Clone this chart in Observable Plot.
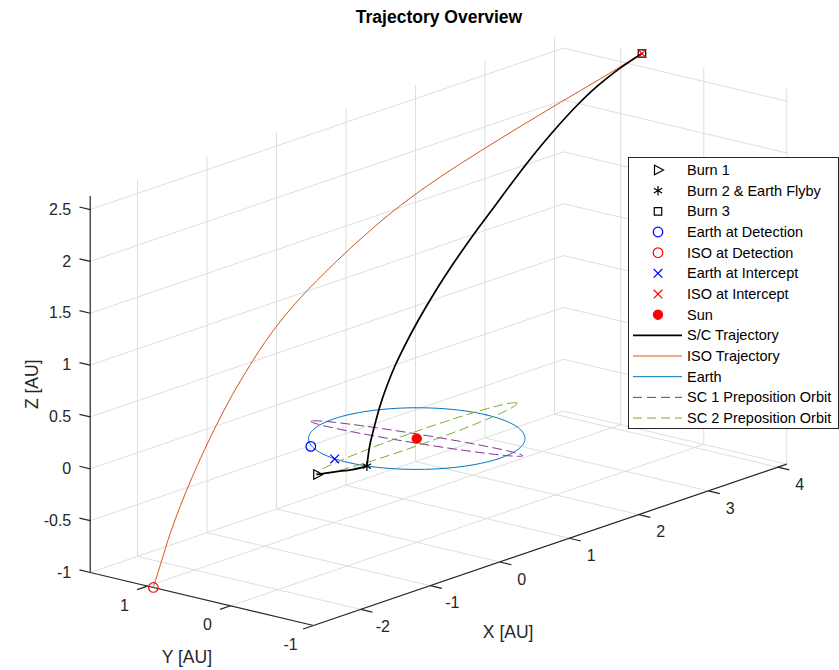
<!DOCTYPE html>
<html>
<head>
<meta charset="utf-8">
<script src="https://cdn.jsdelivr.net/npm/d3@7"></script>
<script src="https://cdn.jsdelivr.net/npm/@observablehq/plot@0.6"></script>
<style>
  body { margin: 0; background: #fff; font-family: "Liberation Sans", Arial, Helvetica, sans-serif; }
  #wrap { position: relative; width: 839px; height: 670px; overflow: hidden; background: #fff; }
  #title { position: absolute; left: 289px; width: 300px; top: 7px; text-align: center; font-weight: bold;
           font-size: 17.5px; color: #000; white-space: nowrap; }
  #legend { position: absolute; left: 628px; top: 157px; }
</style>
</head>
<body>
<div id="wrap">
  <div id="chart"></div>
  <div id="title"></div>
  <div id="legend"></div>
</div>
<script>
// ---------------- data ----------------
const titleText = "Trajectory Overview";
const axisLabels = ["X [AU]", "Y [AU]", "Z [AU]"];
const xLim = [-2.68, 4.13], yLim = [-1, 1.69], zLim = [-1, 2.63];
const xTicks = [-2, -1, 0, 1, 2, 3, 4];
const xTickLabels = ["-2", "-1", "0", "1", "2", "3", "4"];
const yTicks = [-1, 0, 1];
const yTickLabels = ["-1", "0", "1"];
const zTicks = [-1, -0.5, 0, 0.5, 1, 1.5, 2, 2.5];
const zTickLabels = ["-1", "-0.5", "0", "0.5", "1", "1.5", "2", "2.5"];

// spacecraft trajectory (AU); leg 1 = Burn 1 -> Burn 2, leg 2 = Burn 2 -> Burn 3
const scLeg = [1, 1, 1, 1, 2, 2, 2, 2, 2, 2, 2, 2, 2, 2, 2, 2, 2, 2, 2, 2, 2, 2, 2, 2, 2, 2];
const scX = [-1.48, -1.31, -1.15, -0.98, -0.98, -0.945, -0.870, -0.780, -0.664, -0.521, -0.349, -0.157, 0.052, 0.277, 0.518, 0.775, 1.044, 1.326, 1.603, 1.889, 2.191, 2.517, 2.871, 3.256, 3.682, 4.13];
const scY = [-0.04, -0.11, -0.19, -0.22, -0.22, -0.225, -0.221, -0.212, -0.198, -0.176, -0.148, -0.115, -0.078, -0.036, 0.009, 0.058, 0.110, 0.165, 0.219, 0.275, 0.335, 0.401, 0.474, 0.555, 0.646, 0.745];
const scZ = [0, 0, 0, 0, 0, 0.192, 0.367, 0.538, 0.701, 0.857, 1.005, 1.148, 1.286, 1.420, 1.549, 1.674, 1.795, 1.913, 2.033, 2.150, 2.262, 2.368, 2.466, 2.546, 2.601, 2.628];

// ISO trajectory (AU)
const isoX = [-2.68, -2.472, -2.182, -1.928, -1.692, -1.470, -1.152, -0.819, -0.492, -0.236, 0.001, 0.292, 0.733, 1.166, 1.563, 2.014, 2.442, 2.865, 3.282, 3.696, 4.13];
const isoY = [0.93, 1.018, 1.140, 1.232, 1.309, 1.375, 1.460, 1.535, 1.591, 1.625, 1.642, 1.645, 1.617, 1.569, 1.505, 1.400, 1.277, 1.149, 1.016, 0.881, 0.745];
const isoZ = [-1, -0.843, -0.624, -0.439, -0.271, -0.117, 0.099, 0.319, 0.525, 0.682, 0.820, 0.980, 1.207, 1.420, 1.605, 1.799, 1.972, 2.138, 2.300, 2.458, 2.628];

// orbits in the ecliptic plane (centred on the Sun): semi-axes (AU) and orientation (deg)
const orbitNames = ["Earth", "SC 1 Preposition Orbit", "SC 2 Preposition Orbit"];
const orbitA = [1, 1.13, 1.48];
const orbitB = [1, 0.13, 0.15];
const orbitAngle = [0, 99.7, 1.5];

// events (AU)
const eventNames = ["Burn 1", "Burn 2 & Earth Flyby", "Burn 3", "Earth at Detection", "ISO at Detection", "Earth at Intercept", "ISO at Intercept", "Sun"];
const eventX = [-1.48, -0.98, 4.13, -0.82, -2.68, -0.99, 4.13, 0];
const eventY = [-0.04, -0.22, 0.745, 0.59, 0.93, 0.16, 0.745, 0];
const eventZ = [0, 0, 2.628, 0, -1, 0, 2.628, 0];

const lineNames = ["S/C Trajectory", "ISO Trajectory", "Earth", "SC 1 Preposition Orbit", "SC 2 Preposition Orbit"];

// ---------------- view (orthographic camera) ----------------
const viewU = [0.695, -0.83, 0];
const viewV = [0.237, 0.197, 1.037];
const proj = (x, y, z) => ({u: viewU[0] * x + viewU[1] * y + viewU[2] * z, v: viewV[0] * x + viewV[1] * y + viewV[2] * z});

// ---------------- styles ----------------
const triRight = {draw(ctx, size) { const r = Math.sqrt(size / Math.PI); ctx.moveTo(r * 1.1, 0); ctx.lineTo(-r * 0.7, -r * 0.95); ctx.lineTo(-r * 0.7, r * 0.95); ctx.closePath(); }};
const markerStyle = {
  "Burn 1": {symbol: triRight, stroke: "#000", fill: "none", r: 5},
  "Burn 2 & Earth Flyby": {symbol: "asterisk", stroke: "#000", fill: "none", r: 4.5},
  "Burn 3": {symbol: "square", stroke: "#000", fill: "none", r: 4.2},
  "Earth at Detection": {symbol: "circle", stroke: "#0000ff", fill: "none", r: 4.8},
  "ISO at Detection": {symbol: "circle", stroke: "#ff0000", fill: "none", r: 4.8},
  "Earth at Intercept": {symbol: "times", stroke: "#0000ff", fill: "none", r: 4},
  "ISO at Intercept": {symbol: "times", stroke: "#ff0000", fill: "none", r: 4},
  "Sun": {symbol: "circle", stroke: "#ff0000", fill: "#ff0000", r: 4.6}
};
const lineStyle = {
  "S/C Trajectory": {stroke: "#000000", strokeWidth: 1.7},
  "ISO Trajectory": {stroke: "#D95319", strokeWidth: 1},
  "Earth": {stroke: "#0072BD", strokeWidth: 1},
  "SC 1 Preposition Orbit": {stroke: "#7E2F8E", strokeWidth: 1, strokeDasharray: "9,5"},
  "SC 2 Preposition Orbit": {stroke: "#77AC30", strokeWidth: 1, strokeDasharray: "9,5"}
};

// ---------------- build tables ----------------
const seg = (a, b) => { const p = proj(...a), q = proj(...b); return {u1: p.u, v1: p.v, u2: q.u, v2: q.v}; };
const grid = [];
for (const x of xTicks) {
  grid.push(seg([x, yLim[1], zLim[0]], [x, yLim[1], zLim[1]]));
  grid.push(seg([x, yLim[0], zLim[0]], [x, yLim[1], zLim[0]]));
}
for (const y of yTicks) {
  grid.push(seg([xLim[1], y, zLim[0]], [xLim[1], y, zLim[1]]));
  grid.push(seg([xLim[0], y, zLim[0]], [xLim[1], y, zLim[0]]));
}
for (const z of zTicks) {
  grid.push(seg([xLim[0], yLim[1], z], [xLim[1], yLim[1], z]));
  grid.push(seg([xLim[1], yLim[0], z], [xLim[1], yLim[1], z]));
}
const axes = [
  seg([xLim[0], yLim[0], zLim[0]], [xLim[1], yLim[0], zLim[0]]),
  seg([xLim[0], yLim[0], zLim[0]], [xLim[0], yLim[1], zLim[0]]),
  seg([xLim[0], yLim[1], zLim[0]], [xLim[0], yLim[1], zLim[1]])
];
const tickLen = {x: 0.14, y: 0.15, z: 0.13};
const ticks = [], xLab = [], yLab = [], zLab = [];
xTicks.forEach((x, i) => { ticks.push(seg([x, yLim[0], zLim[0]], [x, yLim[0] - tickLen.x, zLim[0]])); xLab.push({...proj(x, yLim[0], zLim[0]), label: xTickLabels[i]}); });
yTicks.forEach((y, i) => { ticks.push(seg([xLim[0], y, zLim[0]], [xLim[0] - tickLen.y, y, zLim[0]])); yLab.push({...proj(xLim[0], y, zLim[0]), label: yTickLabels[i]}); });
zTicks.forEach((z, i) => { ticks.push(seg([xLim[0], yLim[1], z], [xLim[0], yLim[1] + tickLen.z, z])); zLab.push({...proj(xLim[0], yLim[1], z), label: zTickLabels[i]}); });

const scRows = scX.map((x, i) => ({...proj(x, scY[i], scZ[i]), leg: scLeg[i]}));
const isoRows = isoX.map((x, i) => proj(x, isoY[i], isoZ[i]));
const orbitRows = orbitNames.map((name, k) => {
  const rows = [], phi = orbitAngle[k] * Math.PI / 180;
  for (let d = 0; d <= 360; d += 2) {
    const t = d * Math.PI / 180, ca = orbitA[k] * Math.cos(t), sb = orbitB[k] * Math.sin(t);
    rows.push({...proj(ca * Math.cos(phi) - sb * Math.sin(phi), ca * Math.sin(phi) + sb * Math.cos(phi), 0), name});
  }
  return rows;
});
const eventRows = eventNames.map((name, i) => ({...proj(eventX[i], eventY[i], eventZ[i]), name}));

// ---------------- plot ----------------
const font = "Liberation Sans, Arial, Helvetica, sans-serif";
const marks = [
  Plot.link(grid, {x1: "u1", y1: "v1", x2: "u2", y2: "v2", stroke: "#dedede", strokeWidth: 1}),
  Plot.link(axes, {x1: "u1", y1: "v1", x2: "u2", y2: "v2", stroke: "#262626", strokeWidth: 1.2}),
  Plot.link(ticks, {x1: "u1", y1: "v1", x2: "u2", y2: "v2", stroke: "#262626", strokeWidth: 1.2}),
  Plot.text(xLab, {x: "u", y: "v", text: "label", dx: 22, dy: 17.5, fontSize: 16, fill: "#262626", textAnchor: "middle"}),
  Plot.text(yLab, {x: "u", y: "v", text: "label", dx: -23, dy: 19.5, fontSize: 16, fill: "#262626", textAnchor: "middle"}),
  Plot.text(zLab, {x: "u", y: "v", text: "label", dx: -19, dy: 0, fontSize: 16, fill: "#262626", textAnchor: "end"}),
  Plot.text([proj((xLim[0] + xLim[1]) / 2, yLim[0], zLim[0])], {x: "u", y: "v", text: [axisLabels[0]], dx: -42, dy: 88, fontSize: 17.5, fill: "#262626"}),
  Plot.text([proj(xLim[0], (yLim[0] + yLim[1]) / 2, zLim[0])], {x: "u", y: "v", text: [axisLabels[1]], dx: -15, dy: 58.5, fontSize: 17.5, fill: "#262626"}),
  Plot.text([proj(xLim[0], yLim[1], (zLim[0] + zLim[1]) / 2)], {x: "u", y: "v", text: [axisLabels[2]], dx: -58, dy: 0, rotate: -90, fontSize: 17.5, fill: "#262626"}),
  ...orbitNames.map((name, k) => Plot.line(orbitRows[k], {x: "u", y: "v", ...lineStyle[name]})),
  Plot.line(isoRows, {x: "u", y: "v", curve: "catmull-rom", ...lineStyle["ISO Trajectory"]}),
  Plot.line(scRows, {x: "u", y: "v", z: "leg", curve: "catmull-rom", ...lineStyle["S/C Trajectory"]}),
  ...eventRows.map(row => Plot.dot([row], {x: "u", y: "v", strokeWidth: 1.2, ...markerStyle[row.name]}))
];
const chart = Plot.plot({
  width: 839, height: 670, margin: 0,
  x: {type: "linear", domain: [-4.1626, 4.2274], range: [0, 839], axis: null},
  y: {type: "linear", domain: [4.3808, -2.3192], range: [0, 670], axis: null},
  style: {fontFamily: font, background: "white"},
  marks
});
document.getElementById("chart").appendChild(chart);
document.getElementById("title").textContent = titleText;

// ---------------- legend ----------------
const legendItems = [...eventNames, ...lineNames];
const lw = 211, lh = 272, rowH = 20.67;
const lsvg = d3.select("#legend").append("svg").attr("width", lw).attr("height", lh).style("font-family", font);
lsvg.append("rect").attr("x", 0.5).attr("y", 0.5).attr("width", lw - 1).attr("height", lh - 1).attr("fill", "#fff").attr("stroke", "#262626").attr("stroke-width", 1);
const symMap = {asterisk: d3.symbolAsterisk, square: d3.symbolSquare, circle: d3.symbolCircle, times: d3.symbolTimes};
legendItems.forEach((name, i) => {
  const cy = 13 + i * rowH;
  const g = lsvg.append("g");
  if (markerStyle[name]) {
    const s = markerStyle[name];
    const type = typeof s.symbol === "string" ? symMap[s.symbol] : s.symbol;
    g.append("path").attr("transform", `translate(30,${cy})`)
      .attr("d", d3.symbol(type, Math.PI * s.r * s.r)())
      .attr("fill", s.fill).attr("stroke", s.stroke).attr("stroke-width", 1.2);
  } else {
    const s = lineStyle[name];
    g.append("line").attr("x1", 5).attr("x2", 54).attr("y1", cy).attr("y2", cy)
      .attr("stroke", s.stroke).attr("stroke-width", s.strokeWidth)
      .attr("stroke-dasharray", s.strokeDasharray || null);
  }
  g.append("text").attr("x", 59).attr("y", cy).attr("dy", "0.35em").attr("font-size", 14.5).attr("fill", "#000").text(name);
});
</script>
</body>
</html>
